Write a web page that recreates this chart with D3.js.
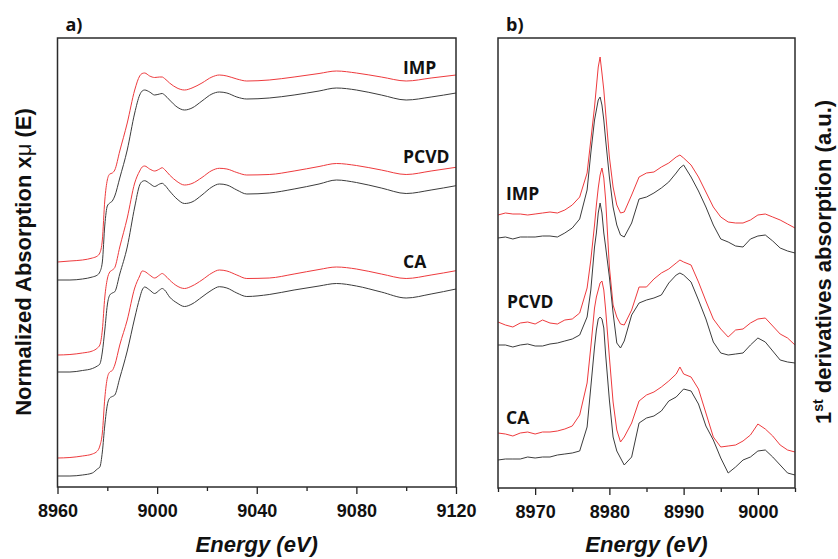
<!DOCTYPE html>
<html>
<head>
<meta charset="utf-8">
<script src="https://cdnjs.cloudflare.com/ajax/libs/d3/7.8.5/d3.min.js"></script>
<style>
body { margin: 0; background: #fff; }
svg { display: block; }
.tick text { font-family: "Liberation Sans", Arial, sans-serif; font-weight: bold; font-size: 18px; fill: #111; }
.tick line { stroke: #222; stroke-width: 1.3; }
</style>
</head>
<body>
<svg id="viz" width="838" height="559"></svg>
<script>
// ---- panel a: XANES spectra (normalized absorption) ----
var energyA = [8960, 8965, 8970, 8974, 8976, 8977, 8978, 8979, 8980, 8981, 8982, 8983, 8985, 8988, 8991,
  8993, 8994, 8995, 8997, 8999, 9001, 9002, 9003, 9005, 9008, 9011, 9014, 9018, 9022, 9025, 9028,
  9032, 9036, 9045, 9055, 9065, 9072, 9080, 9090, 9100, 9110, 9120];

var impRedA = [2.25, 2.26, 2.27, 2.29, 2.31, 2.34, 2.47, 2.87, 3.07, 3.13, 3.14, 3.17, 3.36, 3.64, 3.97,
  4.11, 4.135, 4.14, 4.11, 4.095, 4.10, 4.10, 4.085, 4.04, 3.99, 3.97, 3.99, 4.04, 4.10, 4.12, 4.11,
  4.08, 4.06, 4.07, 4.10, 4.135, 4.16, 4.14, 4.10, 4.06, 4.09, 4.12];
var impBlackA = [2.07, 2.07, 2.08, 2.10, 2.12, 2.15, 2.25, 2.62, 2.81, 2.84, 2.86, 2.91, 3.09, 3.37, 3.74,
  3.92, 3.96, 3.97, 3.95, 3.92, 3.93, 3.935, 3.92, 3.87, 3.80, 3.77, 3.79, 3.86, 3.93, 3.95, 3.94,
  3.90, 3.88, 3.89, 3.92, 3.96, 3.99, 3.97, 3.92, 3.87, 3.90, 3.94];
var pcvdRedA = [1.32, 1.325, 1.34, 1.36, 1.39, 1.42, 1.57, 1.90, 2.08, 2.15, 2.17, 2.195, 2.40, 2.69, 3.04,
  3.16, 3.20, 3.21, 3.18, 3.16, 3.18, 3.193, 3.175, 3.12, 3.055, 3.02, 3.035, 3.095, 3.165, 3.187, 3.18,
  3.145, 3.12, 3.125, 3.16, 3.205, 3.235, 3.215, 3.17, 3.125, 3.16, 3.197];
var pcvdBlackA = [1.15, 1.15, 1.165, 1.185, 1.21, 1.23, 1.35, 1.57, 1.82, 1.92, 1.94, 1.953, 2.13, 2.40, 2.80,
  3.02, 3.055, 3.063, 3.035, 3.005, 3.03, 3.037, 3.02, 2.96, 2.88, 2.835, 2.85, 2.92, 3.00, 3.03, 3.02,
  2.97, 2.93, 2.94, 2.98, 3.03, 3.07, 3.045, 2.99, 2.935, 2.97, 3.013];
var caRedA = [0.29, 0.295, 0.31, 0.33, 0.36, 0.41, 0.54, 0.89, 1.09, 1.15, 1.165, 1.22, 1.42, 1.67, 1.99,
  2.11, 2.16, 2.155, 2.12, 2.09, 2.12, 2.135, 2.12, 2.07, 2.01, 1.985, 2.01, 2.07, 2.14, 2.17, 2.16,
  2.12, 2.085, 2.09, 2.13, 2.175, 2.20, 2.18, 2.13, 2.085, 2.12, 2.163];
var caBlackA = [0.11, 0.11, 0.12, 0.14, 0.18, 0.20, 0.35, 0.62, 0.82, 0.89, 0.905, 0.92, 1.09, 1.36, 1.69,
  1.89, 1.97, 2.00, 1.97, 1.935, 1.97, 1.985, 1.97, 1.90, 1.84, 1.805, 1.83, 1.90, 1.97, 2.003, 1.99,
  1.94, 1.905, 1.925, 1.97, 2.01, 2.035, 2.01, 1.95, 1.89, 1.93, 1.98];

// ---- panel b: first derivatives ----
var energyB = [8965, 8966, 8967, 8968, 8969, 8970, 8971, 8972, 8973, 8974, 8975, 8976, 8977,
  8977.5, 8978, 8978.25, 8978.5, 8978.75, 8979, 8979.25, 8979.5, 8980, 8980.5, 8981, 8981.5, 8982,
  8983, 8984, 8985, 8986, 8987, 8988, 8989, 8989.5,
  8990, 8991, 8992, 8993, 8994, 8995, 8996, 8997, 8998, 8999, 9000, 9001, 9002, 9003, 9004, 9005];

var impRedB = [2.73, 2.75, 2.74, 2.74, 2.73, 2.74, 2.75, 2.76, 2.75, 2.78, 2.83, 2.91, 3.15,
  3.48, 3.81, 4.01, 4.21, 4.31, 4.15, 3.98, 3.75, 3.31, 3.01, 2.83, 2.75, 2.76,
  2.93, 3.11, 3.15, 3.16, 3.21, 3.25, 3.31, 3.33,
  3.30, 3.23, 3.11, 2.96, 2.81, 2.71, 2.66, 2.65, 2.65, 2.68, 2.73, 2.74, 2.71, 2.68, 2.64, 2.60];
var impBlackB = [2.50, 2.51, 2.49, 2.51, 2.51, 2.51, 2.52, 2.52, 2.51, 2.55, 2.60, 2.69, 2.98,
  3.35, 3.68, 3.78, 3.88, 3.91, 3.83, 3.68, 3.48, 3.11, 2.81, 2.63, 2.53, 2.51,
  2.65, 2.89, 2.91, 2.95, 3.00, 3.06, 3.15, 3.20,
  3.23, 3.11, 2.97, 2.81, 2.63, 2.49, 2.46, 2.42, 2.41, 2.49, 2.52, 2.53, 2.47, 2.40, 2.37, 2.35];
var pcvdRedB = [1.66, 1.63, 1.61, 1.65, 1.66, 1.64, 1.68, 1.65, 1.64, 1.68, 1.69, 1.75, 2.00,
  2.28, 2.63, 2.83, 3.00, 3.13, 3.20, 3.10, 2.88, 2.21, 1.83, 1.71, 1.64, 1.63,
  1.78, 2.01, 2.01, 2.09, 2.15, 2.19, 2.25, 2.28,
  2.26, 2.23, 2.06, 1.87, 1.69, 1.59, 1.51, 1.58, 1.59, 1.65, 1.69, 1.70, 1.62, 1.54, 1.50, 1.43];
var pcvdBlackB = [1.43, 1.43, 1.41, 1.43, 1.44, 1.42, 1.42, 1.44, 1.45, 1.47, 1.49, 1.53, 1.71,
  1.98, 2.41, 2.55, 2.75, 2.85, 2.75, 2.55, 2.41, 2.11, 1.75, 1.45, 1.40, 1.47,
  1.73, 1.85, 1.88, 1.90, 1.93, 2.05, 2.13, 2.15,
  2.13, 2.06, 1.88, 1.69, 1.46, 1.35, 1.33, 1.34, 1.35, 1.43, 1.50, 1.46, 1.37, 1.28, 1.26, 1.25];
var caRedB = [0.55, 0.54, 0.52, 0.55, 0.56, 0.54, 0.56, 0.56, 0.57, 0.59, 0.62, 0.73, 1.05,
  1.41, 1.80, 1.91, 1.98, 2.05, 2.07, 1.98, 1.78, 1.31, 0.86, 0.58, 0.46, 0.51,
  0.65, 0.87, 0.93, 0.96, 1.01, 1.07, 1.14, 1.21,
  1.14, 1.11, 0.99, 0.75, 0.51, 0.41, 0.42, 0.43, 0.47, 0.53, 0.64, 0.59, 0.52, 0.43, 0.38, 0.36];
var caBlackB = [0.28, 0.29, 0.29, 0.29, 0.31, 0.30, 0.31, 0.31, 0.33, 0.34, 0.35, 0.37, 0.61,
  1.01, 1.41, 1.58, 1.69, 1.71, 1.69, 1.60, 1.33, 0.88, 0.51, 0.37, 0.30, 0.23,
  0.31, 0.65, 0.70, 0.72, 0.77, 0.87, 0.91, 0.95,
  0.99, 0.97, 0.84, 0.62, 0.48, 0.30, 0.15, 0.21, 0.28, 0.31, 0.37, 0.38, 0.31, 0.23, 0.15, 0.13];

var sampleNames = ["IMP", "PCVD", "CA"];
var majorTicksA = [8960, 9000, 9040, 9080, 9120];
var minorTicksA = [8980, 9020, 9060, 9100];
var majorTicksB = [8970, 8980, 8990, 9000];
var minorTicksB = [8965, 8975, 8985, 8995, 9005];

var red = "#ee3a3d", black = "#3c3c3c";

var svg = d3.select("#viz");

function drawPanel(p) {
    var x = d3.scaleLinear().domain(p.xDomain).range([p.left, p.right]);
    var y = d3.scaleLinear().domain(p.yDomain).range([p.bottom, p.top]);
    var g = svg.append("g");

    // minor ticks, then labelled major ticks (outward)
    g.append("g").attr("transform", "translate(0," + p.bottom + ")")
        .call(d3.axisBottom(x).tickValues(p.minor).tickSize(4).tickSizeOuter(0).tickFormat(""))
        .call(s => s.select(".domain").remove());
    g.append("g").attr("transform", "translate(0," + p.bottom + ")")
        .call(d3.axisBottom(x).tickValues(p.major).tickSize(7).tickPadding(10).tickSizeOuter(0).tickFormat(d3.format("d")))
        .call(s => s.select(".domain").remove());

    var line = d3.line()
        .x((d, i) => x(p.energy[i]))
        .y(d => y(d))
        .curve(p.curve);

    p.series.forEach(function(s) {
        g.append("path").datum(s.values)
            .attr("d", line)
            .attr("fill", "none")
            .attr("stroke", s.color)
            .attr("stroke-width", 1)
            .attr("stroke-linejoin", "round");
    });

    // frame
    g.append("rect")
        .attr("x", p.left).attr("y", p.top)
        .attr("width", p.right - p.left).attr("height", p.bottom - p.top)
        .attr("fill", "none").attr("stroke", "#2b2b2b").attr("stroke-width", 1.5);

    // sample names
    p.labels.forEach(function(l, i) {
        g.append("text")
            .attr("x", l[0]).attr("y", l[1])
            .style("font-family", "'Open Sans', sans-serif")
            .style("font-weight", "bold")
            .style("font-size", "17.5px")
            .style("fill", "#111")
            .text(sampleNames[i]);
    });

    // panel letter
    g.append("text")
        .attr("x", p.left + 8).attr("y", 31)
        .style("font-family", "'Open Sans', sans-serif")
        .style("font-weight", "bold")
        .style("font-size", "18px")
        .style("fill", "#111")
        .text(p.letter);

    // x title
    g.append("text")
        .attr("x", (p.left + p.right) / 2).attr("y", 552)
        .attr("text-anchor", "middle")
        .style("font-family", "'Liberation Sans', Arial, sans-serif")
        .style("font-weight", "bold")
        .style("font-style", "italic")
        .style("font-size", "22px")
        .style("fill", "#111")
        .text("Energy (eV)");
}

drawPanel({
    left: 57.5, right: 456, top: 38, bottom: 487,
    xDomain: [8960, 9120], yDomain: [0, 4.49],
    major: majorTicksA, minor: minorTicksA,
    energy: energyA, curve: d3.curveMonotoneX,
    series: [
        {values: impRedA, color: red}, {values: impBlackA, color: black},
        {values: pcvdRedA, color: red}, {values: pcvdBlackA, color: black},
        {values: caRedA, color: red}, {values: caBlackA, color: black}
    ],
    labels: [[403, 74], [403, 163], [403, 268]],
    letter: "a)"
});

drawPanel({
    left: 498, right: 795, top: 38, bottom: 488,
    xDomain: [8965, 9005], yDomain: [0, 4.5],
    major: majorTicksB, minor: minorTicksB,
    energy: energyB, curve: d3.curveLinear,
    series: [
        {values: impRedB, color: red}, {values: impBlackB, color: black},
        {values: pcvdRedB, color: red}, {values: pcvdBlackB, color: black},
        {values: caRedB, color: red}, {values: caBlackB, color: black}
    ],
    labels: [[506, 200], [507, 308], [506, 424]],
    letter: "b)"
});

// y titles
var yl = svg.append("text")
    .attr("transform", "translate(31,262) rotate(-90)")
    .attr("text-anchor", "middle")
    .style("font-family", "'Liberation Sans', Arial, sans-serif")
    .style("font-weight", "bold")
    .style("font-size", "22px")
    .style("fill", "#111");
yl.append("tspan").text("Normalized Absorption x");
yl.append("tspan").style("font-weight", "normal").text("\u03bc");
yl.append("tspan").text(" (E)");

var yr = svg.append("text")
    .attr("transform", "translate(831,262) rotate(-90)")
    .attr("text-anchor", "middle")
    .style("font-family", "'Liberation Sans', Arial, sans-serif")
    .style("font-weight", "bold")
    .style("font-size", "22px")
    .style("fill", "#111");
yr.append("tspan").text("1");
yr.append("tspan").attr("dy", "-8").style("font-size", "14px").text("st");
yr.append("tspan").attr("dy", "8").text(" derivatives absorption (a.u.)");
</script>
</body>
</html>
